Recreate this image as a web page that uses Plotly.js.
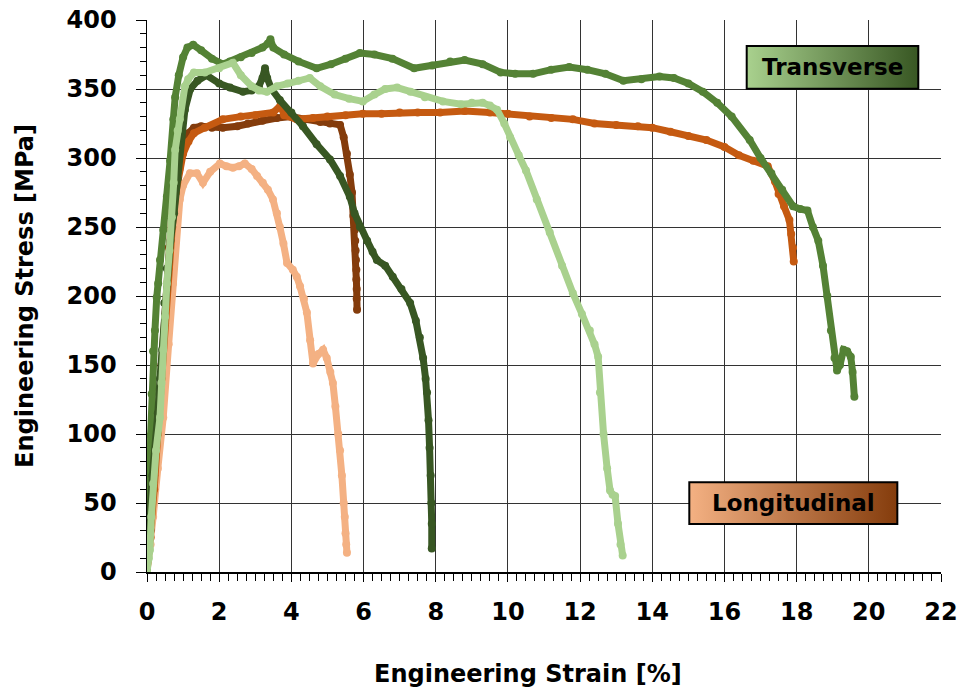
<!DOCTYPE html>
<html>
<head>
<meta charset="utf-8">
<script src="https://cdn.plot.ly/plotly-3.0.1.min.js"></script>
<style>
  html, body { margin: 0; padding: 0; background: #fff; }
  #chart { width: 961px; height: 689px; }
</style>
</head>
<body>
<div id="chart"></div>
<script>
// Tensile test curves: engineering strain [%] vs engineering stress [MPa]

// Longitudinal specimen 1 (light)
const longA_strain = [0, 0.1, 0.17, 0.3, 0.45, 0.6, 0.72, 0.8, 0.86, 0.91, 1.0, 1.19, 1.38, 1.55, 1.75, 2.02, 2.2, 2.38, 2.55, 2.71, 2.9, 3.05, 3.21, 3.35, 3.49, 3.6, 3.68, 3.78, 3.88, 4.04, 4.15, 4.24, 4.35, 4.43, 4.52, 4.6, 4.75, 4.88, 4.98, 5.08, 5.15, 5.22, 5.3, 5.35, 5.4, 5.45, 5.48, 5.5, 5.52, 5.54];
const longA_stress = [0, 20, 40, 75, 112, 165, 209, 240, 262, 270, 280, 289, 289, 282, 290, 296, 294, 293, 294, 296, 292, 287, 282, 277, 270, 260, 250, 238, 224, 219, 214, 207, 198, 188, 168, 151, 158, 161, 155, 145, 137, 120, 100, 88, 70, 50, 40, 28, 20, 14];

// Longitudinal specimen 2 (dark)
const longB_strain = [0, 0.1, 0.2, 0.3, 0.4, 0.5, 0.6, 0.7, 0.8, 0.9, 1.0, 1.15, 1.3, 1.5, 1.8, 2.1, 2.5, 2.8, 3.2, 3.6, 4.0, 4.4, 4.8, 5.07, 5.35, 5.45, 5.54, 5.62, 5.68, 5.72, 5.76, 5.77, 5.78, 5.79, 5.8, 5.8, 5.81, 5.81, 5.82];
const longB_stress = [0, 30, 70, 110, 150, 195, 235, 265, 285, 300, 310, 318, 322, 323, 322, 322, 323, 325, 327, 329, 330, 328, 326, 325, 324, 315, 303, 288, 275, 258, 248, 240, 233, 226, 219, 212, 205, 198, 190];

// Longitudinal specimen 3 (medium)
const longC_strain = [0, 0.1, 0.2, 0.3, 0.4, 0.5, 0.6, 0.7, 0.8, 0.9, 1.0, 1.15, 1.3, 1.6, 2.1, 2.6, 3.0, 3.5, 3.7, 3.8, 4.15, 4.6, 5.0, 5.5, 5.98, 6.5, 7.0, 7.5, 8.12, 8.8, 9.5, 10.0, 10.6, 11.2, 11.8, 12.4, 13.0, 13.6, 14.0, 14.5, 15.0, 15.5, 16.0, 16.4, 16.8, 17.2, 17.4, 17.5, 17.65, 17.8, 17.85, 17.9, 17.92];
const longC_stress = [0, 25, 60, 100, 140, 180, 220, 250, 275, 292, 303, 312, 318, 322, 328, 330, 331, 333, 338, 331, 328, 329, 330, 331, 332, 332, 333, 333, 333, 334, 333, 332, 330, 329, 328, 325, 324, 323, 322, 319, 316, 313, 308, 302, 298, 294, 283, 274, 265, 255, 245, 235, 225];

// Transverse specimen 1 (medium green)
const transA_strain = [0, 0.08, 0.1, 0.13, 0.17, 0.22, 0.27, 0.31, 0.36, 0.45, 0.55, 0.64, 0.73, 0.78, 0.88, 1.0, 1.12, 1.28, 1.5, 1.8, 2.1, 2.3, 2.6, 2.9, 3.2, 3.35, 3.42, 3.5, 3.8, 4.2, 4.7, 5.1, 5.5, 5.9, 6.3, 6.8, 7.4, 7.9, 8.4, 8.8, 9.3, 9.8, 10.2, 10.7, 11.2, 11.7, 12.2, 12.7, 13.2, 13.7, 14.2, 14.6, 15.0, 15.4, 15.8, 16.2, 16.7, 17.0, 17.3, 17.6, 17.9, 18.1, 18.3, 18.45, 18.6, 18.73, 18.85, 18.95, 19.05, 19.12, 19.2, 19.3, 19.4, 19.5, 19.55, 19.6];
const transA_stress = [0, 45, 99, 129, 160, 175, 199, 209, 226, 248, 272, 298, 328, 344, 360, 373, 380, 382, 378, 372, 368, 370, 373, 376, 380, 383, 386, 380, 375, 370, 365, 368, 372, 376, 375, 372, 365, 367, 370, 371, 368, 362, 361, 361, 364, 366, 364, 361, 356, 357, 359, 358, 354, 348, 340, 330, 313, 300, 289, 277, 265, 263, 262, 250, 240, 222, 200, 175, 155, 146, 150, 161, 160, 156, 145, 127];

// Transverse specimen 2 (dark green)
const transB_strain = [0, 0.03, 0.1, 0.15, 0.22, 0.3, 0.36, 0.42, 0.48, 0.55, 0.65, 0.75, 0.85, 0.95, 1.05, 1.2, 1.4, 1.65, 2.0, 2.3, 2.66, 2.9, 3.1, 3.2, 3.27, 3.33, 3.45, 3.68, 4.0, 4.32, 4.7, 5.07, 5.35, 5.62, 5.75, 5.9, 6.1, 6.25, 6.37, 6.6, 6.81, 7.05, 7.29, 7.45, 7.56, 7.65, 7.72, 7.76, 7.8, 7.83, 7.86, 7.88, 7.89, 7.89];
const transB_stress = [0, 21, 50, 70, 88, 115, 140, 161, 195, 220, 240, 260, 285, 315, 335, 350, 356, 360, 354, 351, 348, 349, 352, 358, 365, 358, 350, 342, 333, 323, 310, 299, 287, 272, 260, 250, 240, 232, 226, 222, 214, 205, 195, 182, 170, 155, 140, 130, 110, 90, 70, 50, 35, 17];

// Transverse specimen 3 (light green)
const transC_strain = [0, 0.05, 0.08, 0.12, 0.17, 0.25, 0.36, 0.4, 0.45, 0.5, 0.55, 0.62, 0.69, 0.74, 0.78, 0.85, 0.91, 1.05, 1.14, 1.3, 1.6, 2.0, 2.38, 2.6, 2.9, 3.1, 3.32, 3.6, 3.9, 4.2, 4.51, 4.8, 5.2, 5.6, 5.98, 6.3, 6.6, 6.93, 7.3, 7.7, 8.2, 8.7, 9.0, 9.3, 9.5, 9.7, 9.9, 10.06, 10.3, 10.5, 10.8, 11.16, 11.5, 11.8, 12.05, 12.27, 12.4, 12.5, 12.55, 12.65, 12.75, 12.83, 12.9, 12.97, 13.05, 13.12, 13.18];
const transC_stress = [0, 10, 16, 40, 64, 88, 112, 137, 161, 185, 209, 233, 257, 282, 306, 320, 328, 352, 357, 362, 362, 365, 369, 360, 352, 349, 348, 352, 354, 356, 358, 352, 346, 343, 341, 346, 350, 351, 348, 344, 341, 339, 340, 340, 338, 335, 325, 315, 302, 291, 270, 246, 222, 202, 187, 175, 165, 156, 130, 100, 75, 59, 56, 55, 35, 20, 12];

const xTickVals = [0, 2, 4, 6, 8, 10, 12, 14, 16, 18, 20, 22];
const yTickVals = [0, 50, 100, 150, 200, 250, 300, 350, 400];
const legendLabels = ['Transverse', 'Longitudinal'];
const xTitle = 'Engineering Strain [%]';
const yTitle = 'Engineering Stress [MPa]';

const FONT = 'DejaVu Sans, Arial, sans-serif';

function curve(x, y, color) {
  return {
    x: x, y: y,
    type: 'scatter',
    mode: 'lines+markers',
    line: { color: color, width: 7 },
    marker: { color: color, size: 8 },
    hoverinfo: 'x+y',
    showlegend: false
  };
}

const traces = [
  curve(longA_strain, longA_stress, '#f4b183'),
  curve(longB_strain, longB_stress, '#843c0c'),
  curve(longC_strain, longC_stress, '#c55a11'),
  curve(transA_strain, transA_stress, '#548235'),
  curve(transB_strain, transB_stress, '#385723'),
  curve(transC_strain, transC_stress, '#a9d18e')
];

// horizontal gradient swatch used behind each group label
function gradientSVG(c0, c1) {
  const svg = '<svg xmlns="http://www.w3.org/2000/svg" width="200" height="40" preserveAspectRatio="none">' +
    '<defs><linearGradient id="g" x1="0" y1="0" x2="1" y2="0">' +
    '<stop offset="0" stop-color="' + c0 + '"/><stop offset="1" stop-color="' + c1 + '"/>' +
    '</linearGradient></defs><rect width="200" height="40" fill="url(#g)"/></svg>';
  return 'data:image/svg+xml;charset=utf-8,' + encodeURIComponent(svg);
}

const boxes = [
  { label: legendLabels[0], x0: 0.7553, x1: 0.9714, y0: 0.8755, y1: 0.9529, c0: '#a9d18e', c1: '#385723' },
  { label: legendLabels[1], x0: 0.6830, x1: 0.9450, y0: 0.0870, y1: 0.1625, c0: '#f4b183', c1: '#843c0c' }
];

const images = boxes.map(b => ({
  source: gradientSVG(b.c0, b.c1),
  xref: 'paper', yref: 'paper',
  x: b.x0, y: b.y1, sizex: b.x1 - b.x0, sizey: b.y1 - b.y0,
  xanchor: 'left', yanchor: 'top', sizing: 'stretch', layer: 'above'
}));

const shapes = boxes.map(b => ({
  type: 'rect', xref: 'paper', yref: 'paper',
  x0: b.x0, x1: b.x1, y0: b.y0, y1: b.y1,
  line: { color: '#000', width: 2 }, fillcolor: 'rgba(0,0,0,0)', layer: 'above'
}));

const annotations = boxes.map(b => ({
  xref: 'paper', yref: 'paper',
  x: (b.x0 + b.x1) / 2, y: (b.y0 + b.y1) / 2,
  xanchor: 'center', yanchor: 'middle',
  text: b.label, showarrow: false,
  font: { family: FONT, size: 23, weight: 700, color: '#000' }
}));

// x-axis title, set slightly left of the plot centre
annotations.push({
  xref: 'paper', yref: 'paper',
  x: 0.48, y: -0.155, xanchor: 'center', yanchor: 'top',
  text: xTitle, showarrow: false,
  font: { family: FONT, size: 24, weight: 700, color: '#000' }
});

const tickFont = { family: FONT, size: 24, weight: 700, color: '#000' };

const layout = {
  width: 961, height: 689,
  margin: { l: 147, r: 20, t: 20, b: 117 },
  paper_bgcolor: '#fff', plot_bgcolor: '#fff',
  showlegend: false,
  xaxis: {
    range: [0, 22], tickvals: xTickVals, ticktext: xTickVals.map(String),
    showgrid: true, gridcolor: '#333', gridwidth: 1,
    zeroline: false, showline: true, linecolor: '#000', linewidth: 1.5,
    ticks: 'outside', ticklen: 8, tickcolor: '#000', tickwidth: 1,
    ticklabelstandoff: 10,
    minor: { dtick: 0.25, tick0: 0, ticks: 'outside', ticklen: 7, tickcolor: '#000', tickwidth: 1, showgrid: false },
    tickfont: tickFont,
    automargin: false
  },
  yaxis: {
    range: [0, 400], tickvals: yTickVals, ticktext: yTickVals.map(String),
    showgrid: true, gridcolor: '#333', gridwidth: 1,
    zeroline: false, showline: true, linecolor: '#000', linewidth: 1.5,
    ticks: 'outside', ticklen: 10, tickcolor: '#000', tickwidth: 1,
    ticklabelstandoff: 14,
    minor: { dtick: 10, tick0: 0, ticks: 'outside', ticklen: 6, tickcolor: '#000', tickwidth: 1, showgrid: false },
    tickfont: tickFont,
    title: { text: yTitle, font: { family: FONT, size: 24, weight: 700, color: '#000' }, standoff: 26 },
    automargin: false
  },
  images: images,
  shapes: shapes,
  annotations: annotations
};

Plotly.newPlot('chart', traces, layout, { displayModeBar: false, staticPlot: true });
</script>
</body>
</html>
